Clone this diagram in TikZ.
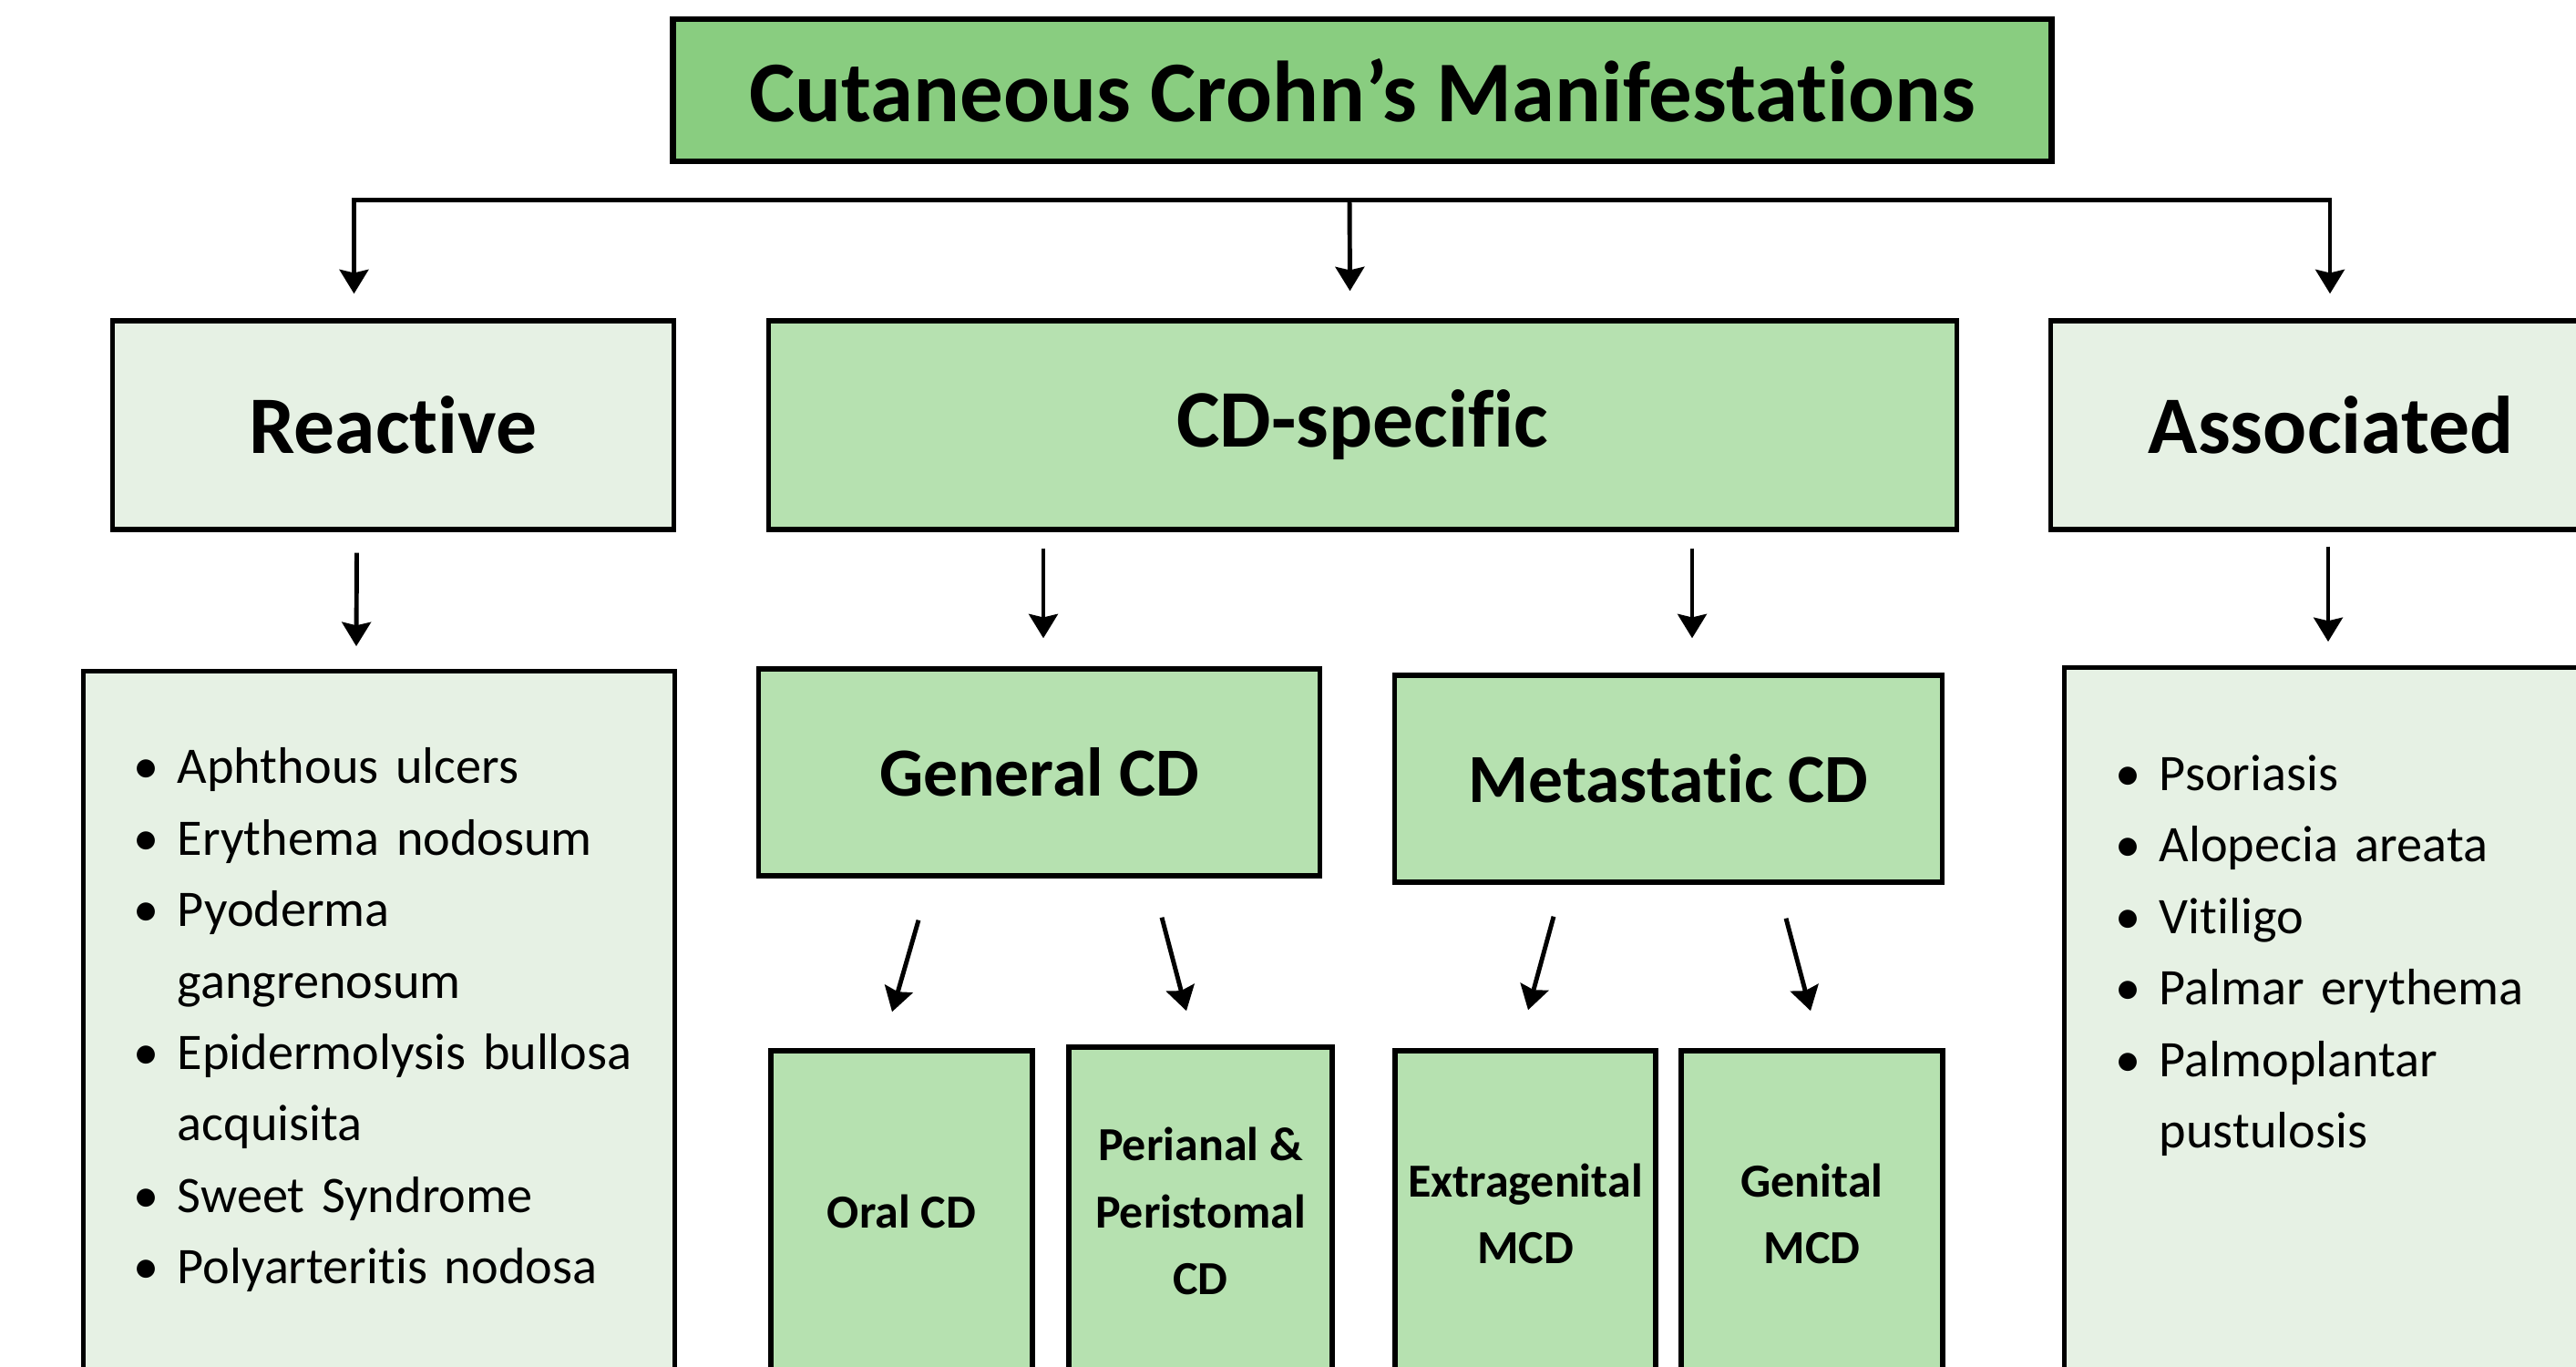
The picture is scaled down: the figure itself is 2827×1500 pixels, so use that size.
\documentclass[tikz,border=0pt]{standalone}
\usepackage{fontspec}
\setmainfont{Carlito}[RawFeature={-liga;-clig;-calt;-dlig}]
\usepackage{xcolor}
\usepackage{tikz}
\usetikzlibrary{calc,arrows.meta}
\definecolor{titlegreen}{RGB}{137,205,128}
\definecolor{midgreen}{RGB}{182,225,176}
\definecolor{palegreen}{RGB}{230,241,228}
% one bullet line with hanging indent
\newcommand{\bitem}[1]{\hangindent=15.4pt\hangafter=1\noindent\makebox[15.4pt][l]{\makebox[11.4pt][c]{\textbullet}}#1\par}

\begin{document}
\begin{tikzpicture}[x=0.01cm, y=-0.01cm,
	% styles for the boxes
	headbox/.style={draw=black, line width=1.8pt, fill=titlegreen, inner sep=0pt,
		minimum width=15.12cm, minimum height=1.56cm,
		font=\fontsize{27}{32}\selectfont\bfseries},
	catbox/.style={draw=black, line width=1.5pt, inner sep=0pt,
		minimum height=2.29cm, font=\fontsize{25.5}{30}\selectfont\bfseries},
	subbox/.style={draw=black, line width=1.5pt, fill=midgreen, inner sep=0pt,
		minimum height=2.27cm, font=\fontsize{21.5}{26}\selectfont\bfseries},
	leafbox/.style={draw=black, line width=1.5pt, fill=midgreen, inner sep=0pt,
		minimum width=2.87cm, align=center, font=\fontsize{14.8}{20.8}\selectfont\bfseries},
	listbox/.style={draw=black, line width=1.5pt, fill=palegreen, inner sep=0pt,
		minimum width=6.48cm, minimum height=8cm},
	listtext/.style={anchor=north west, inner sep=0pt, text width=5.9cm, align=left,
		font=\fontsize{16}{22.3}\selectfont},
	arr/.style={line width=1.4pt, -{Stealth[length=7.5pt,width=9pt,inset=1pt]}}
	]
	\useasboundingbox (0,0) rectangle (2827,1500);
	\clip (0,0) rectangle (2827,1500);
	
	% title
	\node[headbox] (title) at (1495,99) {Cutaneous Crohn’s Manifestations};
	
	% first level
	\node[catbox, fill=palegreen, minimum width=6.15cm] (reactive) at (431.5,466.5) {Reactive};
	\node[catbox, fill=midgreen, minimum width=13.03cm] (cdspec) at (1495.5,466.5) {CD-specific};
	\node[catbox, fill=palegreen, minimum width=6.15cm] (assoc) at (2558,466.5) {Associated};
	
	% lists
	\node[listbox] (reactlist) at (416,1137) {};
	\node[listtext] (reactitems) at (140,820) {%
		\bitem{Aphthous ulcers}
		\bitem{Erythema nodosum}
		\bitem{Pyoderma\newline gangrenosum}
		\bitem{Epidermolysis bullosa\newline acquisita}
		\bitem{Sweet Syndrome}
		\bitem{Polyarteritis nodosa}};
	\node[listbox] (assoclist) at (2590,1133) {};
	\node[listtext] (associtems) at (2315,828) {%
		\bitem{Psoriasis}
		\bitem{Alopecia areata}
		\bitem{Vitiligo}
		\bitem{Palmar erythema}
		\bitem{Palmoplantar\newline pustulosis}};
	
	% second level
	\node[subbox, minimum width=6.15cm] (general) at (1140.5,847.5) {General CD};
	\node[subbox, minimum width=6.00cm] (meta) at (1831,854.5) {Metastatic CD};
	
	% third level
	\node[leafbox, minimum height=3.52cm] (oral) at (989.5,1329) {Oral CD};
	\node[leafbox, minimum width=2.89cm, minimum height=3.60cm] (perianal) at (1317.5,1329) {Perianal \&\\Peristomal\\CD};
	\node[leafbox, minimum width=2.86cm, minimum height=3.58cm] (extra) at (1674,1332) {Extragenital\\MCD};
	\node[leafbox, minimum height=3.58cm] (genital) at (1988.5,1332) {Genital\\MCD};
	
	% arrows
	\coordinate (hub) at ($(title.south)+(-14,39)$);
	\draw[arr] (hub) -- ($(cdspec.north)+(-14,-30)$);
	\draw[arr] (hub) -| ($(reactive.north)+(-43,-27)$);
	\draw[arr] (hub) -| ($(assoc.north)+(-1,-27)$);
	
	\draw[arr] ($(reactive.south)+(-40,23)$) -- ($(reactlist.north)+(-25,-25)$);
	\draw[arr] ($(cdspec.south)+(-350.5,18)$) -- ($(general.north)+(4.5,-31)$);
	\draw[arr] ($(cdspec.south)+(361.5,18)$) -- ($(meta.north)+(26,-38)$);
	\draw[arr] ($(assoc.south)+(-3,16)$) -- ($(assoclist.north)+(-35,-26)$);
	
	\draw[arr] ($(general.south)+(-132.5,46)$) -- ($(oral.north)+(-10.5,-40)$);
	\draw[arr] ($(general.south)+(134.5,43)$) -- ($(perianal.north)+(-15.5,-37)$);
	\draw[arr] ($(meta.south)+(-126,35)$) -- ($(extra.north)+(3,-42)$);
	\draw[arr] ($(meta.south)+(129,37)$) -- ($(genital.north)+(-1.5,-41)$);
\end{tikzpicture}
\end{document}
